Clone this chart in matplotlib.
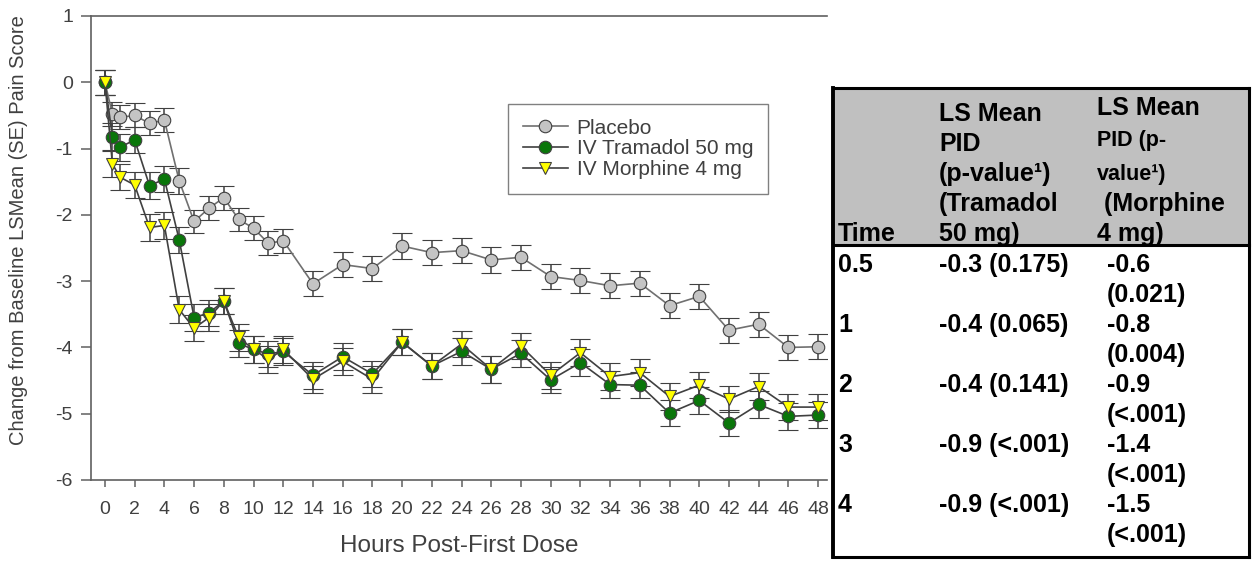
import matplotlib
matplotlib.use("Agg")
import matplotlib.pyplot as plt
from matplotlib.lines import Line2D
from matplotlib.patches import Rectangle

plt.rcParams['font.family'] = ['Liberation Sans', 'DejaVu Sans']
plt.rcParams['axes.unicode_minus'] = False

# ---- chart data ----
hours = [0, 0.5, 1, 2, 3, 4, 5, 6, 7, 8, 9, 10, 11, 12,
         14, 16, 18, 20, 22, 24, 26, 28, 30, 32, 34, 36, 38, 40, 42, 44, 46, 48]

placebo = [0.0, -0.48, -0.53, -0.50, -0.62, -0.57, -1.49, -2.10, -1.90, -1.74, -2.07, -2.20, -2.43, -2.39,
           -3.04, -2.75, -2.81, -2.47, -2.57, -2.54, -2.68, -2.64, -2.93, -2.99, -3.07, -3.03, -3.37, -3.23,
           -3.74, -3.65, -4.00, -3.99]
placebo_se = [0.19, 0.18, 0.18, 0.18, 0.18, 0.18, 0.19, 0.18, 0.18, 0.18, 0.18, 0.18, 0.18, 0.18,
              0.19, 0.19, 0.19, 0.19, 0.19, 0.19, 0.19, 0.19, 0.19, 0.19, 0.19, 0.19, 0.19, 0.19,
              0.19, 0.19, 0.19, 0.19]

tramadol = [0.0, -0.82, -0.98, -0.87, -1.56, -1.46, -2.38, -3.55, -3.48, -3.30, -3.94, -4.03, -4.10, -4.06,
            -4.42, -4.14, -4.40, -3.92, -4.28, -4.06, -4.33, -4.09, -4.49, -4.23, -4.56, -4.57, -4.99, -4.80,
            -5.14, -4.86, -5.04, -5.02]
tramadol_se = [0.19, 0.2, 0.2, 0.2, 0.2, 0.2, 0.2, 0.2, 0.2, 0.2, 0.2, 0.2, 0.2, 0.2,
               0.2, 0.2, 0.2, 0.2, 0.2, 0.2, 0.2, 0.2, 0.2, 0.2, 0.2, 0.2, 0.2, 0.2,
               0.2, 0.2, 0.2, 0.2]

morphine = [0.0, -1.23, -1.43, -1.55, -2.19, -2.16, -3.43, -3.71, -3.55, -3.30, -3.85, -4.03, -4.18, -4.03,
            -4.48, -4.21, -4.48, -3.92, -4.28, -3.95, -4.33, -3.98, -4.42, -4.08, -4.44, -4.38, -4.74, -4.57,
            -4.78, -4.59, -4.90, -4.90]
morphine_se = [0.19, 0.2, 0.2, 0.2, 0.2, 0.2, 0.2, 0.2, 0.2, 0.2, 0.2, 0.2, 0.2, 0.2,
               0.2, 0.2, 0.2, 0.2, 0.2, 0.2, 0.2, 0.2, 0.2, 0.2, 0.2, 0.2, 0.2, 0.2,
               0.2, 0.2, 0.2, 0.2]

series_names = ["Placebo", "IV Tramadol 50 mg", "IV Morphine 4 mg"]
xticks = list(range(0, 49, 2))
yticks = [1, 0, -1, -2, -3, -4, -5, -6]

# ---- table data ----
tbl_time = ["0.5", "1", "2", "3", "4"]
tbl_tram = ["-0.3 (0.175)", "-0.4 (0.065)", "-0.4 (0.141)", "-0.9 (<.001)", "-0.9 (<.001)"]
tbl_morph = ["-0.6", "-0.8", "-0.9", "-1.4", "-1.5"]
tbl_morph_p = ["(0.021)", "(0.004)", "(<.001)", "(<.001)", "(<.001)"]
hdr_tram = ["LS Mean", "PID", "(p-value\u00b9)", "(Tramadol", "50 mg)"]
hdr_morph = ["LS Mean", "PID (p-", "value\u00b9)", " (Morphine", "4 mg)"]
hdr_morph_small = [False, True, True, False, False]

W, H = 1252, 561
fig = plt.figure(figsize=(W / 100, H / 100), dpi=100)

# chart axes, placed in pixel terms
L, R, T, B = 91, 827, 16, 480
ax = fig.add_axes([L / W, 1 - B / H, (R - L) / W, (B - T) / H])

axc = '#606060'
txtc = '#404040'

styles = [
    dict(marker='o', mfc='#c4c4c4', color='#707070'),
    dict(marker='o', mfc='#0a760a', color='#404040'),
    dict(marker='v', mfc='#ffff00', color='#404040'),
]
for ys, se, st in zip([placebo, tramadol, morphine], [placebo_se, tramadol_se, morphine_se], styles):
    ax.errorbar(hours, ys, yerr=se, fmt='-', marker=st['marker'], ms=9, mfc=st['mfc'],
                mec='#404040', mew=0.8, color=st['color'], lw=1.2,
                ecolor='#404040', elinewidth=1.1, capsize=7, capthick=1.1)

ax.set_xlim(-0.94, 48.6)
ax.set_ylim(-6, 1)
ax.set_xticks(xticks)
ax.set_yticks(yticks)
ax.set_yticklabels([str(v) for v in yticks])
for s in ['left', 'bottom', 'top']:
    ax.spines[s].set_color(axc)
    ax.spines[s].set_linewidth(1.2)
ax.spines['right'].set_visible(False)
ax.tick_params(axis='x', direction='out', length=5, width=1.1, color=axc, labelcolor=txtc,
               labelsize=14, pad=10)
ax.tick_params(axis='y', direction='out', length=7, width=1.1, color=axc, labelcolor=txtc,
               labelsize=14, pad=6)
ax.set_xlabel("Hours Post-First Dose", fontsize=17.5, color=txtc, labelpad=12)
fig.text(19 / W, 1 - 230 / H, "Change from Baseline LSMean (SE) Pain Score", rotation=90,
         ha='center', va='center', fontsize=14.5, color=txtc)

handles = [Line2D([], [], marker=st['marker'], ms=9, mfc=st['mfc'], mec='#404040', mew=0.8,
                  color=st['color'], lw=1.2) for st in styles]
leg = ax.legend(handles, series_names, loc='upper left',
                bbox_to_anchor=((508 - L) / (R - L), (B - 104) / (B - T)),
                borderaxespad=0, fontsize=15, frameon=True, fancybox=False, edgecolor=axc,
                handlelength=2.2, handletextpad=0.4, labelspacing=0.08, borderpad=0.7)
leg.get_frame().set_linewidth(1.0)
for t in leg.get_texts():
    t.set_color(txtc)

# ---- table overlay in pixel coordinates ----
tax = fig.add_axes([0, 0, 1, 1])
tax.set_xlim(0, W)
tax.set_ylim(H, 0)
tax.axis('off')
tax.patch.set_visible(False)

TL, TR, TT, HB, TB = 833, 1249, 88, 245, 557
tax.add_patch(Rectangle((TL, TT), TR - TL, HB - TT, facecolor='#c0c0c0', edgecolor='none'))
tax.plot([TL, TR], [TT, TT], color='black', lw=2.2, solid_capstyle='projecting')
tax.plot([TL, TR], [HB, HB], color='black', lw=2.2, solid_capstyle='projecting')
tax.plot([TL, TR], [TB, TB], color='black', lw=2.2, solid_capstyle='projecting')
tax.plot([TL, TL], [TT, TB], color='black', lw=2.8, solid_capstyle='projecting')
tax.plot([TR, TR], [TT, TB], color='black', lw=2.2, solid_capstyle='projecting')

big, small = 18, 15.5
col_x = [838, 939, 1097]
pitch = 30
hdr_base = 241
for i, txt in enumerate(hdr_tram):
    tax.text(col_x[1], hdr_base - (4 - i) * pitch, txt, fontsize=big,
             fontweight='bold', va='baseline', ha='left')
morph_base = [115, 146, 180, 211, 241]
for txt, sm, yb in zip(hdr_morph, hdr_morph_small, morph_base):
    tax.text(col_x[2], yb, txt, fontsize=small if sm else big, fontweight='bold', va='baseline', ha='left')
tax.text(col_x[0], hdr_base, "Time", fontsize=big, fontweight='bold', va='baseline', ha='left')

row0 = 272
for i in range(len(tbl_time)):
    yb = row0 + i * 2 * pitch
    tax.text(col_x[0], yb, tbl_time[i], fontsize=big, fontweight='bold', va='baseline')
    tax.text(col_x[1], yb, tbl_tram[i], fontsize=big, fontweight='bold', va='baseline')
    tax.text(1107, yb, tbl_morph[i], fontsize=big, fontweight='bold', va='baseline')
    tax.text(1107, yb + pitch, tbl_morph_p[i], fontsize=big, fontweight='bold', va='baseline')

fig.savefig("out.png", dpi=100)
